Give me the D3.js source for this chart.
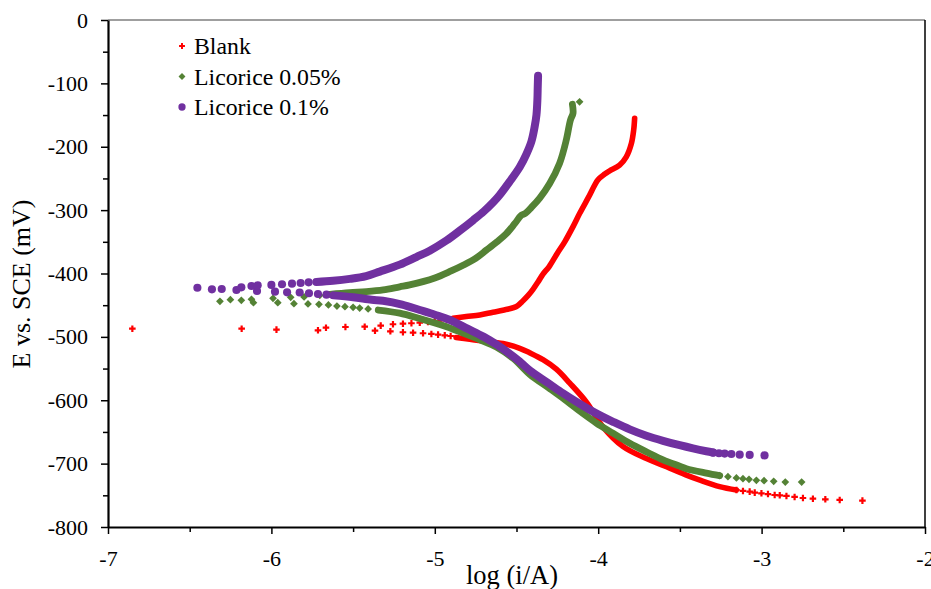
<!DOCTYPE html>
<html>
<head>
<meta charset="utf-8">
<script src="https://cdn.jsdelivr.net/npm/d3@7"></script>
<style>
  body { margin: 0; background: #fff; }
  text { font-family: "Liberation Serif", "Times New Roman", serif; fill: #000; }
</style>
</head>
<body>
<svg id="chart" width="931" height="589"></svg>
<script>
// values: [log(i/A), E mV vs SCE]
// "Trace" = dense run of points (markers overlap into a band), "Dots" = separated markers

// Blank
const blankCathodicTail = [
  [-2.383, -758.4], [-2.522, -757.3], [-2.61, -756.3], [-2.686, -755.3], [-2.747, -754.2],
  [-2.798, -752.6], [-2.848, -751], [-2.889, -750], [-2.92, -749.5], [-2.961, -748],
  [-3.001, -746.8], [-3.042, -745.8], [-3.073, -744.2], [-3.114, -743.1], [-3.154, -741.6]
];
const blankCathodicTrace = [
  [-3.154, -741.6], [-3.257, -736.3], [-3.377, -726], [-3.46, -718], [-3.562, -707],
  [-3.705, -692], [-3.848, -673], [-3.971, -642], [-4.072, -603], [-4.174, -573],
  [-4.256, -551], [-4.338, -536], [-4.42, -525], [-4.48, -518], [-4.583, -510.5],
  [-4.705, -506.5], [-4.786, -503.8], [-4.87, -501]
];
const blankCathodicDots = [
  [-6.851, -487.1], [-6.182, -487.1], [-5.969, -488.6], [-5.715, -489.6], [-5.366, -490.2],
  [-5.272, -491.2], [-5.195, -492.7], [-5.133, -493.4], [-5.072, -494.3], [-5.021, -495.4],
  [-4.98, -496.5], [-4.939, -497.5], [-4.903, -498.6]
];
const blankAnodicDots = [
  [-5.666, -485.5], [-5.547, -484.4], [-5.429, -483.9], [-5.331, -482.3], [-5.256, -480.1],
  [-5.195, -479.2], [-5.143, -478.5], [-5.092, -477.6], [-5.042, -476.5], [-5.0, -475.4],
  [-4.964, -474.1], [-4.927, -472.9]
];
const blankAnodicTrace = [
  [-4.889, -470.7], [-4.807, -468], [-4.725, -465.5], [-4.644, -461], [-4.583, -458],
  [-4.5, -452], [-4.46, -443], [-4.43, -435], [-4.399, -425], [-4.365, -412],
  [-4.338, -401], [-4.3, -389], [-4.25, -368], [-4.205, -350], [-4.154, -326],
  [-4.113, -305], [-4.06, -280], [-4.001, -252], [-3.96, -243], [-3.93, -238],
  [-3.869, -229], [-3.828, -216], [-3.797, -195], [-3.783, -174], [-3.777, -155]
];

// Licorice 0.05%
const greenCathodicTail = [
  [-2.755, -729], [-2.855, -729], [-2.926, -727.9], [-2.985, -726.9], [-3.032, -726.3],
  [-3.077, -724.7], [-3.114, -723.7], [-3.154, -722.6], [-3.206, -720.6], [-3.257, -719]
];
const greenCathodicTrace = [
  [-3.257, -719], [-3.338, -715], [-3.46, -708], [-3.501, -704], [-3.603, -694],
  [-3.7, -682], [-3.807, -668], [-3.91, -652], [-4.011, -636], [-4.093, -621],
  [-4.215, -597], [-4.3, -581], [-4.419, -559], [-4.52, -534], [-4.623, -516],
  [-4.72, -505], [-4.827, -494], [-4.95, -482], [-5.092, -471], [-5.215, -462.5],
  [-5.346, -457.6]
];
const greenCathodicDots = [
  [-5.408, -456], [-5.46, -454.5], [-5.5, -453.3], [-5.55, -452.3], [-5.599, -451.3],
  [-5.651, -449.7], [-5.709, -448.6], [-5.776, -448], [-5.862, -447.6], [-5.961, -446],
  [-6.11, -446]
];
const greenAnodicDots = [
  [-6.315, -443.8], [-6.251, -441.3], [-6.184, -442.3], [-6.122, -440.7], [-5.99, -439.2],
  [-5.882, -437.5], [-5.8, -437], [-5.704, -434.4], [-4.114, -129]
];
const greenAnodicTrace = [
  [-5.643, -432.8], [-5.521, -430.2], [-5.419, -428.7], [-5.316, -426], [-5.215, -421],
  [-5.154, -418], [-5.0, -407], [-4.9, -396], [-4.827, -387], [-4.75, -376],
  [-4.684, -363], [-4.62, -350], [-4.562, -337], [-4.51, -321], [-4.47, -308],
  [-4.445, -305], [-4.41, -296], [-4.358, -281], [-4.297, -258], [-4.236, -226],
  [-4.195, -189], [-4.17, -158], [-4.154, -147], [-4.158, -133]
];

// Licorice 0.1%
const purpleCathodicTail = [
  [-2.982, -687], [-3.073, -686.3], [-3.134, -685.8], [-3.185, -684.8], [-3.226, -684.2],
  [-3.261, -683.7], [-3.297, -682.7]
];
const purpleCathodicTrace = [
  [-3.297, -682.5], [-3.338, -680.5], [-3.42, -676], [-3.501, -671], [-3.603, -664],
  [-3.705, -656], [-3.807, -646], [-3.909, -634], [-3.98, -625], [-4.052, -615],
  [-4.13, -603], [-4.215, -589], [-4.3, -574], [-4.419, -553], [-4.48, -539],
  [-4.55, -525], [-4.623, -512], [-4.7, -500], [-4.8, -487], [-4.91, -473],
  [-5.0, -465], [-5.092, -457.6], [-5.2, -449], [-5.317, -443], [-5.386, -441.5],
  [-5.5, -437.5], [-5.62, -434.5]
];
const purpleCathodicDots = [
  [-5.663, -433.4], [-5.715, -432.3], [-5.77, -431.2], [-5.827, -430], [-5.904, -429.7],
  [-5.978, -428.7], [-6.088, -427.6]
];
const purpleAnodicDots = [
  [-6.453, -422.4], [-6.364, -425], [-6.304, -424.4], [-6.214, -426], [-6.184, -421.8],
  [-6.122, -419.7], [-6.084, -418.6], [-6.0, -418], [-5.935, -417], [-5.874, -416],
  [-5.821, -415], [-5.772, -413.9]
];
const purpleAnodicTrace = [
  [-5.725, -413.4], [-5.623, -411.5], [-5.521, -408.5], [-5.42, -404], [-5.337, -397],
  [-5.215, -386], [-5.113, -374], [-5.031, -364], [-4.929, -348], [-4.85, -333],
  [-4.766, -316], [-4.7, -302], [-4.644, -288], [-4.603, -276], [-4.542, -255],
  [-4.48, -232], [-4.44, -212], [-4.409, -192], [-4.39, -170], [-4.378, -150],
  [-4.372, -125], [-4.37, -105], [-4.368, -88]
];

const seriesNames = ["Blank", "Licorice 0.05%", "Licorice 0.1%"];
const xTicks = [-7, -6, -5, -4, -3, -2];
const yTicks = [0, -100, -200, -300, -400, -500, -600, -700, -800];

const margin = { top: 20, right: 6, bottom: 62, left: 108 };
const width = 931, height = 589;

const svg = d3.select("#chart");

const x = d3.scaleLinear().domain([-7, -2]).range([margin.left, width - margin.right]);
const y = d3.scaleLinear().domain([-800, 0]).range([height - margin.bottom, margin.top]);

// series styling
const series = [
  { name: seriesNames[0], color: "#ff0000", band: 5.6, symbol: d3.symbolCross, size: 24, rotate: 0,
    traces: [blankCathodicTrace, blankAnodicTrace],
    dots: [blankCathodicTail, blankCathodicDots, blankAnodicDots] },
  { name: seriesNames[1], color: "#548235", band: 6.8, symbol: d3.symbolSquare, size: 30, rotate: 45,
    traces: [greenCathodicTrace, greenAnodicTrace],
    dots: [greenCathodicTail, greenCathodicDots, greenAnodicDots] },
  { name: seriesNames[2], color: "#7030a0", band: 8, symbol: d3.symbolCircle, size: 52, rotate: 0,
    traces: [purpleCathodicTrace, purpleAnodicTrace],
    dots: [purpleCathodicTail, purpleCathodicDots, purpleAnodicDots] }
];

// plot frame
svg.append("line")
  .attr("x1", x(-7)).attr("x2", x(-2)).attr("y1", y(0)).attr("y2", y(0))
  .attr("stroke", "#7f7f7f").attr("stroke-width", 1.5);
svg.append("line")
  .attr("x1", x(-2)).attr("x2", x(-2)).attr("y1", y(0)).attr("y2", y(-800))
  .attr("stroke", "#000").attr("stroke-width", 1.5);

const line = d3.line()
  .x(d => x(d[0]))
  .y(d => y(d[1]))
  .curve(d3.curveCatmullRom.alpha(0.5));

const plot = svg.append("g");

series.forEach(s => {
  const g = plot.append("g");
  s.traces.forEach(t => {
    g.append("path")
      .attr("d", line(t))
      .attr("fill", "none")
      .attr("stroke", s.color)
      .attr("stroke-width", s.band)
      .attr("stroke-linecap", "round")
      .attr("stroke-linejoin", "round");
  });
  const sym = d3.symbol().type(s.symbol).size(s.size);
  s.dots.forEach(arr => {
    g.selectAll(null)
      .data(arr)
      .join("path")
      .attr("d", sym)
      .attr("transform", d => `translate(${x(d[0])},${y(d[1])}) rotate(${s.rotate})`)
      .attr("fill", s.color);
  });
});

// axes (hyphen minus as in the original labels)
const fmt = d => String(d);
const xAxis = svg.append("g")
  .attr("transform", `translate(0,${y(-800)})`)
  .call(d3.axisBottom(x).tickValues(xTicks).tickSize(7).tickSizeOuter(0).tickPadding(16).tickFormat(fmt));
svg.append("g")
  .attr("transform", `translate(0,${y(-800)})`)
  .call(d3.axisBottom(x).tickValues(d3.range(-6.5, -2, 1)).tickSize(5).tickSizeOuter(0).tickFormat(""))
  .call(g => g.select(".domain").remove());

const yAxis = svg.append("g")
  .attr("transform", `translate(${x(-7)},0)`)
  .call(d3.axisLeft(y).tickValues(yTicks).tickSize(7).tickSizeOuter(0).tickPadding(13).tickFormat(fmt));
svg.append("g")
  .attr("transform", `translate(${x(-7)},0)`)
  .call(d3.axisLeft(y).tickValues(d3.range(-750, 0, 100)).tickSize(5).tickSizeOuter(0).tickFormat(""))
  .call(g => g.select(".domain").remove());

[xAxis, yAxis].forEach(a => {
  a.select(".domain").attr("stroke", "#000").attr("stroke-width", 2.2);
  a.selectAll(".tick text")
    .style("font-family", "'Liberation Serif', serif")
    .style("font-size", "22px")
    .attr("fill", "#000");
});
svg.selectAll(".tick line").attr("stroke", "#000").attr("stroke-width", 1.5);

// axis titles
svg.append("text")
  .attr("x", 512).attr("y", 584)
  .attr("text-anchor", "middle")
  .style("font-size", "26.5px")
  .text("log (i/A)");

svg.append("text")
  .attr("transform", "translate(30,284) rotate(-90)")
  .attr("text-anchor", "middle")
  .style("font-size", "26px")
  .text("E vs. SCE (mV)");

// legend
const legend = svg.append("g").attr("transform", "translate(182,46)");
series.forEach((s, i) => {
  const row = legend.append("g").attr("transform", `translate(0,${i * 30.5})`);
  row.append("path")
    .attr("d", d3.symbol().type(s.symbol).size(s.size * 0.8)())
    .attr("transform", `rotate(${s.rotate})`)
    .attr("fill", s.color);
  row.append("text")
    .attr("x", 12).attr("y", 8)
    .style("font-size", "23.8px")
    .text(s.name);
});
</script>
</body>
</html>
